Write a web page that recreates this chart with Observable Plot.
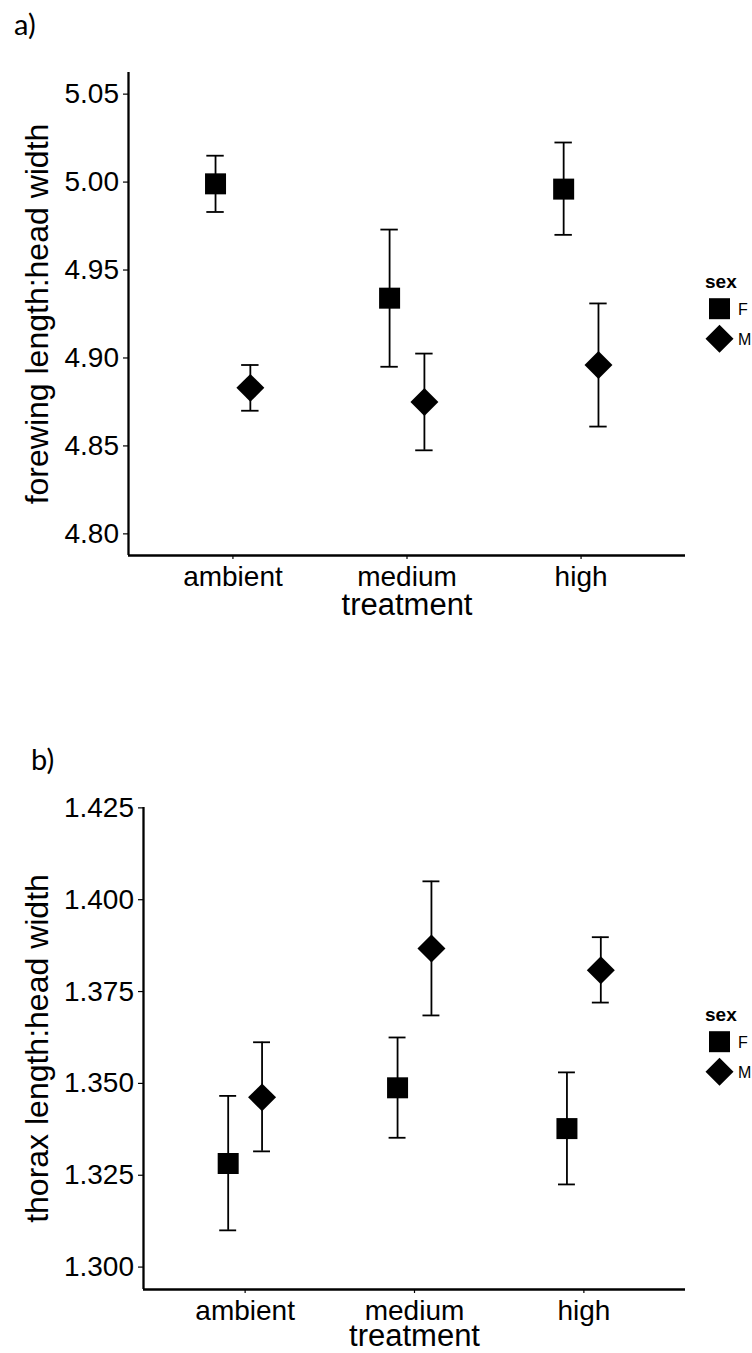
<!DOCTYPE html>
<html>
<head>
<meta charset="utf-8">
<script src="https://cdn.jsdelivr.net/npm/d3@7"></script>
<script src="https://cdn.jsdelivr.net/npm/@observablehq/plot@0.6"></script>
<style>
  body { margin: 0; background: #fff; }
  #root { position: relative; width: 752px; height: 1353px; background: #fff; font-family: "Liberation Sans", Arial, sans-serif; }
  .panel { position: absolute; left: 0; }
  .tag { position: absolute; font-family: Lato, "Open Sans", sans-serif; font-size: 29px; color: #000; line-height: 1; }
  .legend { position: absolute; left: 703px; overflow: visible; }
</style>
</head>
<body>
<div id="root"></div>
<script>
// ---- data ----
const treatments = ["ambient", "medium", "high"];
const sexes = ["F", "M"];

// panel a: forewing length : head width
const foreMeanF = [4.999, 4.934, 4.996];
const foreLoF   = [4.983, 4.895, 4.970];
const foreHiF   = [5.015, 4.973, 5.0225];
const foreMeanM = [4.883, 4.875, 4.896];
const foreLoM   = [4.870, 4.8475, 4.861];
const foreHiM   = [4.896, 4.9025, 4.931];
const foreTicks = [4.80, 4.85, 4.90, 4.95, 5.00, 5.05];

// panel b: thorax length : head width
const thorMeanF = [1.3282, 1.3488, 1.3377];
const thorLoF   = [1.3100, 1.3352, 1.3225];
const thorHiF   = [1.3466, 1.3625, 1.3530];
const thorMeanM = [1.3462, 1.3867, 1.3808];
const thorLoM   = [1.3315, 1.3685, 1.3720];
const thorHiM   = [1.3612, 1.4050, 1.3898];
const thorTicks = [1.300, 1.325, 1.350, 1.375, 1.400, 1.425];

const dodge = {F: -0.1, M: 0.1};
const capHalf = 0.05;

function buildRows(mF, lF, hF, mM, lM, hM) {
  const rows = [];
  treatments.forEach((t, i) => {
    rows.push({treatment: t, sex: "F", x: i + dodge.F, mean: mF[i], lo: lF[i], hi: hF[i]});
    rows.push({treatment: t, sex: "M", x: i + dodge.M, mean: mM[i], lo: lM[i], hi: hM[i]});
  });
  return rows;
}

const rowsA = buildRows(foreMeanF, foreLoF, foreHiF, foreMeanM, foreLoM, foreHiM);
const rowsB = buildRows(thorMeanF, thorLoF, thorHiF, thorMeanM, thorLoM, thorHiM);

function panel({rows, yDomain, yTicks, fmt, ylabel, marginLeft, marginTop, marginBottom, height, labelDx, xLabelDy}) {
  const xDomain = [-0.6, 2.6];
  return Plot.plot({
    width: 752,
    height,
    marginLeft,
    marginRight: 67,
    marginTop,
    marginBottom,
    x: {domain: xDomain},
    y: {domain: yDomain},
    style: {fontFamily: '"Liberation Sans", Arial, sans-serif', fontSize: "28px", color: "#000", background: "transparent", overflow: "visible"},
    marks: [
      Plot.ruleX(rows, {x: "x", y1: "lo", y2: "hi", stroke: "#000", strokeWidth: 1.8}),
      Plot.ruleY(rows, {y: "hi", x1: d => d.x - capHalf, x2: d => d.x + capHalf, stroke: "#000", strokeWidth: 1.8}),
      Plot.ruleY(rows, {y: "lo", x1: d => d.x - capHalf, x2: d => d.x + capHalf, stroke: "#000", strokeWidth: 1.8}),
      Plot.dot(rows.filter(d => d.sex === "F"), {x: "x", y: "mean", symbol: "square", r: 11.85, fill: "#000", stroke: "none"}),
      Plot.dot(rows.filter(d => d.sex === "M"), {x: "x", y: "mean", symbol: "diamond2", r: 12.6, fill: "#000", stroke: "none"}),
      Plot.axisY({ticks: yTicks, tickFormat: d3.format(fmt), tickSize: 5, tickPadding: 4.5, fontSize: 28, label: null, stroke: "#000", strokeWidth: 1.2}),
      Plot.axisX({ticks: [0, 1, 2], tickFormat: i => treatments[i], tickSize: 4, tickPadding: 6.8, fontSize: 28, label: null, stroke: "#000", strokeWidth: 1.2}),
      Plot.ruleX([xDomain[0]], {stroke: "#000", strokeWidth: 2.3}),
      Plot.ruleY([yDomain[0]], {stroke: "#000", strokeWidth: 2.3}),
      Plot.text([ylabel], {text: d => d, frameAnchor: "left", textAnchor: "middle", rotate: -90, dx: -labelDx, lineAnchor: "top", fontSize: 32, fill: "#000"}),
      Plot.text(["treatment"], {text: d => d, frameAnchor: "bottom", textAnchor: "middle", dy: xLabelDy, lineAnchor: "bottom", fontSize: 31, fill: "#000"})
    ]
  });
}

const root = document.getElementById("root");

const chartA = panel({
  rows: rowsA, yDomain: [4.7877, 5.0623], yTicks: foreTicks, fmt: ".2f",
  ylabel: "forewing length:head width",
  marginLeft: 128, marginTop: 72, marginBottom: 85, height: 640, labelDx: 103, xLabelDy: 59.5
});
chartA.classList.add("panel");
chartA.style.top = "0px";
root.appendChild(chartA);

const chartB = panel({
  rows: rowsB, yDomain: [1.2939, 1.4251], yTicks: thorTicks, fmt: ".3f",
  ylabel: "thorax length:head width",
  marginLeft: 143, marginTop: 127, marginBottom: 64, height: 673, labelDx: 118, xLabelDy: 56.5
});
chartB.classList.add("panel");
chartB.style.top = "680px";
root.appendChild(chartB);

// panel tags
function tag(text, left, top) {
  const d = document.createElement("div");
  d.className = "tag";
  d.textContent = text;
  d.style.left = left + "px";
  d.style.top = top + "px";
  root.appendChild(d);
}
tag("a)", 14, 9);
tag("b)", 31, 744);

// legends
const legendSymbols = {F: d3.symbolSquare, M: d3.symbolDiamond2};
const legendSizes = {F: 441, M: 500};
function legend(top) {
  const svg = d3.create("svg")
    .attr("class", "legend")
    .attr("width", 49)
    .attr("height", 90)
    .style("top", top + "px")
    .style("font-family", '"Liberation Sans", Arial, sans-serif');
  svg.append("text").attr("x", 2).attr("y", 18).attr("font-weight", "bold").attr("font-size", 19).text("sex");
  sexes.forEach((s, i) => {
    const cy = 38.7 + i * 30;
    svg.append("path")
      .attr("transform", `translate(16.5,${cy})`)
      .attr("d", d3.symbol(legendSymbols[s], legendSizes[s])())
      .attr("fill", "#000");
    svg.append("text").attr("x", 35).attr("y", cy + 6).attr("font-size", 16).text(s);
  });
  root.appendChild(svg.node());
}
legend(270);
legend(1003);
</script>
</body>
</html>
